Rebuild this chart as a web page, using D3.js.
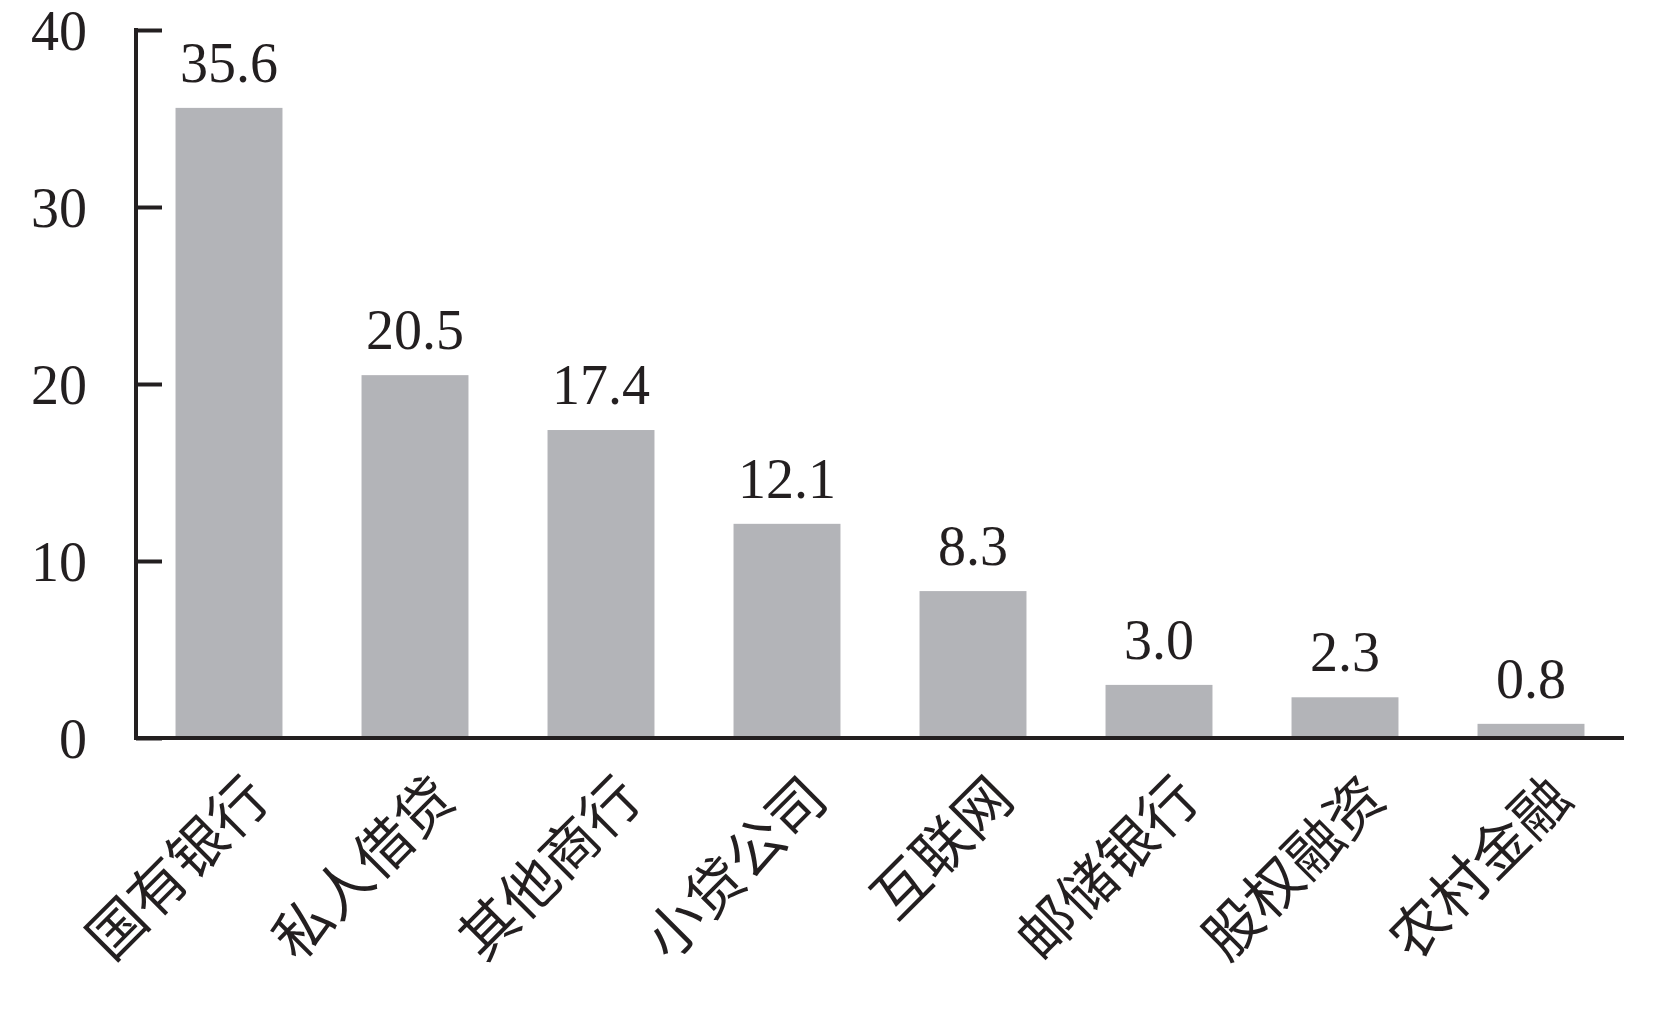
<!DOCTYPE html>
<html><head><meta charset="utf-8">
<script src="https://cdn.jsdelivr.net/npm/d3@7"></script>
<style>html,body{margin:0;padding:0;background:#fff;}</style>
</head><body>
<svg id="c" width="1655" height="1010"></svg>
<script>
const categories = ["国有银行","私人借贷","其他商行","小贷公司","互联网","邮储银行","股权融资","农村金融"];
const values = [35.6, 20.5, 17.4, 12.1, 8.3, 3.0, 2.3, 0.8];
const yTicks = [0, 10, 20, 30, 40];

const svg = d3.select("#c");
const x0 = 136, x1 = 1624, yBase = 738, yTop = 30;
const x = d3.scaleBand().domain(categories).range([x0, x1]).paddingInner(0.425).paddingOuter(0.2125);
const y = d3.scaleLinear().domain([0, 40]).range([yBase, yTop]);

svg.selectAll("rect.bar").data(values).enter().append("rect")
  .attr("x", (d,i) => x(categories[i]))
  .attr("y", d => y(d))
  .attr("width", x.bandwidth())
  .attr("height", d => yBase - y(d))
  .attr("fill", "#b3b4b8");

svg.selectAll("text.val").data(values).enter().append("text")
  .attr("x", (d,i) => x(categories[i]) + x.bandwidth()/2)
  .attr("y", d => y(d) - 26)
  .attr("text-anchor", "middle")
  .attr("font-family", "'Liberation Serif', 'Times New Roman', serif")
  .attr("font-size", 56)
  .attr("fill", "#231f20")
  .text(d => d.toFixed(1));

// y axis
const yAxis = d3.axisLeft(y).tickValues(yTicks).tickSize(-26).tickPadding(49).tickFormat(d3.format("d"));
const gy = svg.append("g").attr("transform", `translate(${x0},0)`).call(yAxis);
gy.select(".domain").remove();
gy.selectAll(".tick line").attr("stroke", "#231f20").attr("stroke-width", 4);
gy.selectAll(".tick text").attr("font-family", "'Liberation Serif', 'Times New Roman', serif")
  .attr("font-size", 56).attr("fill", "#231f20").attr("dy", "0.35em");
svg.append("line").attr("x1", x0).attr("x2", x0).attr("y1", yTop - 2).attr("y2", yBase + 2)
  .attr("stroke", "#231f20").attr("stroke-width", 4);

// x axis
const gx = svg.append("g").attr("transform", `translate(0,${yBase})`).call(d3.axisBottom(x).tickSize(0).tickPadding(0));
gx.select(".domain").remove();
svg.append("line").attr("x1", x0 - 2).attr("x2", x1).attr("y1", yBase).attr("y2", yBase)
  .attr("stroke", "#231f20").attr("stroke-width", 4);
gx.selectAll(".tick text")
  .attr("font-family", "'Noto Sans CJK SC', sans-serif")
  .attr("font-size", 57)
  .attr("fill", "#231f20")
  .attr("text-anchor", "end")
  .attr("dominant-baseline", "central")
  .attr("y", 0).attr("dy", null)
  .attr("transform", "translate(26,46) rotate(-45)");
</script>
</body></html>
